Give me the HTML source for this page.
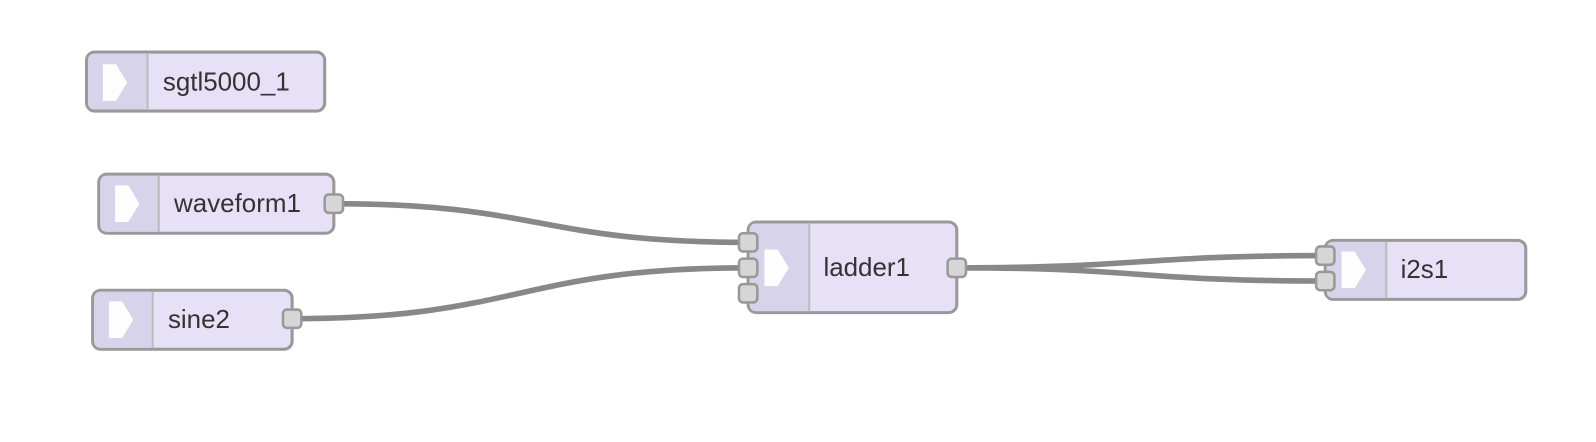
<!DOCTYPE html>
<html><head><meta charset="utf-8"><style>
html,body{margin:0;padding:0;background:#fff;overflow:hidden;}
svg{display:block;}
text{font-family:"Liberation Sans",sans-serif;font-size:25.5px;fill:#333;}
</style></head><body>
<svg width="1596" height="442" viewBox="0 0 1568 434" xmlns="http://www.w3.org/2000/svg">
<defs>
<g id="arr"><path d="M-11,-18 L2,-18 L13,0 L2,18 L-11,18 Z" fill="#fff" opacity="0.95"/></g>
</defs>
<g fill="none" stroke="#888" stroke-width="5.5">
<path d="M328,200 C530,200 530,238 735,238"/>
<path d="M287,313 C510,313 510,263 735,263"/>
<path d="M940,263 C1120,263 1120,251 1302,251"/>
<path d="M940,263 C1120,263 1120,276 1302,276"/>
</g>
<!-- sgtl5000_1 -->
<rect x="85" y="51" width="234" height="58" rx="8" fill="#e6e1f7" stroke="#999" stroke-width="3"/>
<path d="M93,52.5 L145,52.5 L145,107.5 L93,107.5 Q86.5,107.5 86.5,101 L86.5,59 Q86.5,52.5 93,52.5Z" fill="#d7d3ea"/>
<line x1="145" y1="52" x2="145" y2="108" stroke="#bbb" stroke-width="2"/>
<use href="#arr" x="112" y="81"/>
<text x="160" y="89">sgtl5000_1</text>
<!-- waveform1 -->
<rect x="97" y="171" width="231" height="58" rx="8" fill="#e6e1f7" stroke="#999" stroke-width="3"/>
<path d="M105,172.5 L156,172.5 L156,227.5 L105,227.5 Q98.5,227.5 98.5,221 L98.5,179 Q98.5,172.5 105,172.5Z" fill="#d7d3ea"/>
<line x1="156" y1="172" x2="156" y2="228" stroke="#bbb" stroke-width="2"/>
<use href="#arr" x="124" y="200"/>
<text x="171" y="208">waveform1</text>
<!-- sine2 -->
<rect x="91" y="285" width="196" height="58" rx="8" fill="#e6e1f7" stroke="#999" stroke-width="3"/>
<path d="M99,286.5 L150,286.5 L150,341.5 L99,341.5 Q92.5,341.5 92.5,335 L92.5,293 Q92.5,286.5 99,286.5Z" fill="#d7d3ea"/>
<line x1="150" y1="286" x2="150" y2="342" stroke="#bbb" stroke-width="2"/>
<use href="#arr" x="118" y="314"/>
<text x="165" y="322">sine2</text>
<!-- ladder1 -->
<rect x="735" y="218" width="205" height="89" rx="8" fill="#e6e1f7" stroke="#999" stroke-width="3"/>
<path d="M743,219.5 L795,219.5 L795,305.5 L743,305.5 Q736.5,305.5 736.5,299 L736.5,226 Q736.5,219.5 743,219.5Z" fill="#d7d3ea"/>
<line x1="795" y1="219" x2="795" y2="306" stroke="#bbb" stroke-width="2"/>
<use href="#arr" x="762" y="263"/>
<text x="809" y="271">ladder1</text>
<!-- i2s1 -->
<rect x="1302" y="236" width="197" height="58" rx="8" fill="#e6e1f7" stroke="#999" stroke-width="3"/>
<path d="M1310,237.5 L1362,237.5 L1362,292.5 L1310,292.5 Q1303.5,292.5 1303.5,286 L1303.5,244 Q1303.5,237.5 1310,237.5Z" fill="#d7d3ea"/>
<line x1="1362" y1="237" x2="1362" y2="293" stroke="#bbb" stroke-width="2"/>
<use href="#arr" x="1329" y="265"/>
<text x="1376" y="273">i2s1</text>
<!-- ports -->
<g fill="#d6d6d6" stroke="#999" stroke-width="2.5">
<rect x="319" y="191" width="18" height="18" rx="4"/>
<rect x="278" y="304" width="18" height="18" rx="4"/>
<rect x="726" y="229" width="18" height="18" rx="4"/>
<rect x="726" y="254" width="18" height="18" rx="4"/>
<rect x="726" y="279" width="18" height="18" rx="4"/>
<rect x="931" y="254" width="18" height="18" rx="4"/>
<rect x="1293" y="242" width="18" height="18" rx="4"/>
<rect x="1293" y="267" width="18" height="18" rx="4"/>
</g>
</svg>
</body></html>
